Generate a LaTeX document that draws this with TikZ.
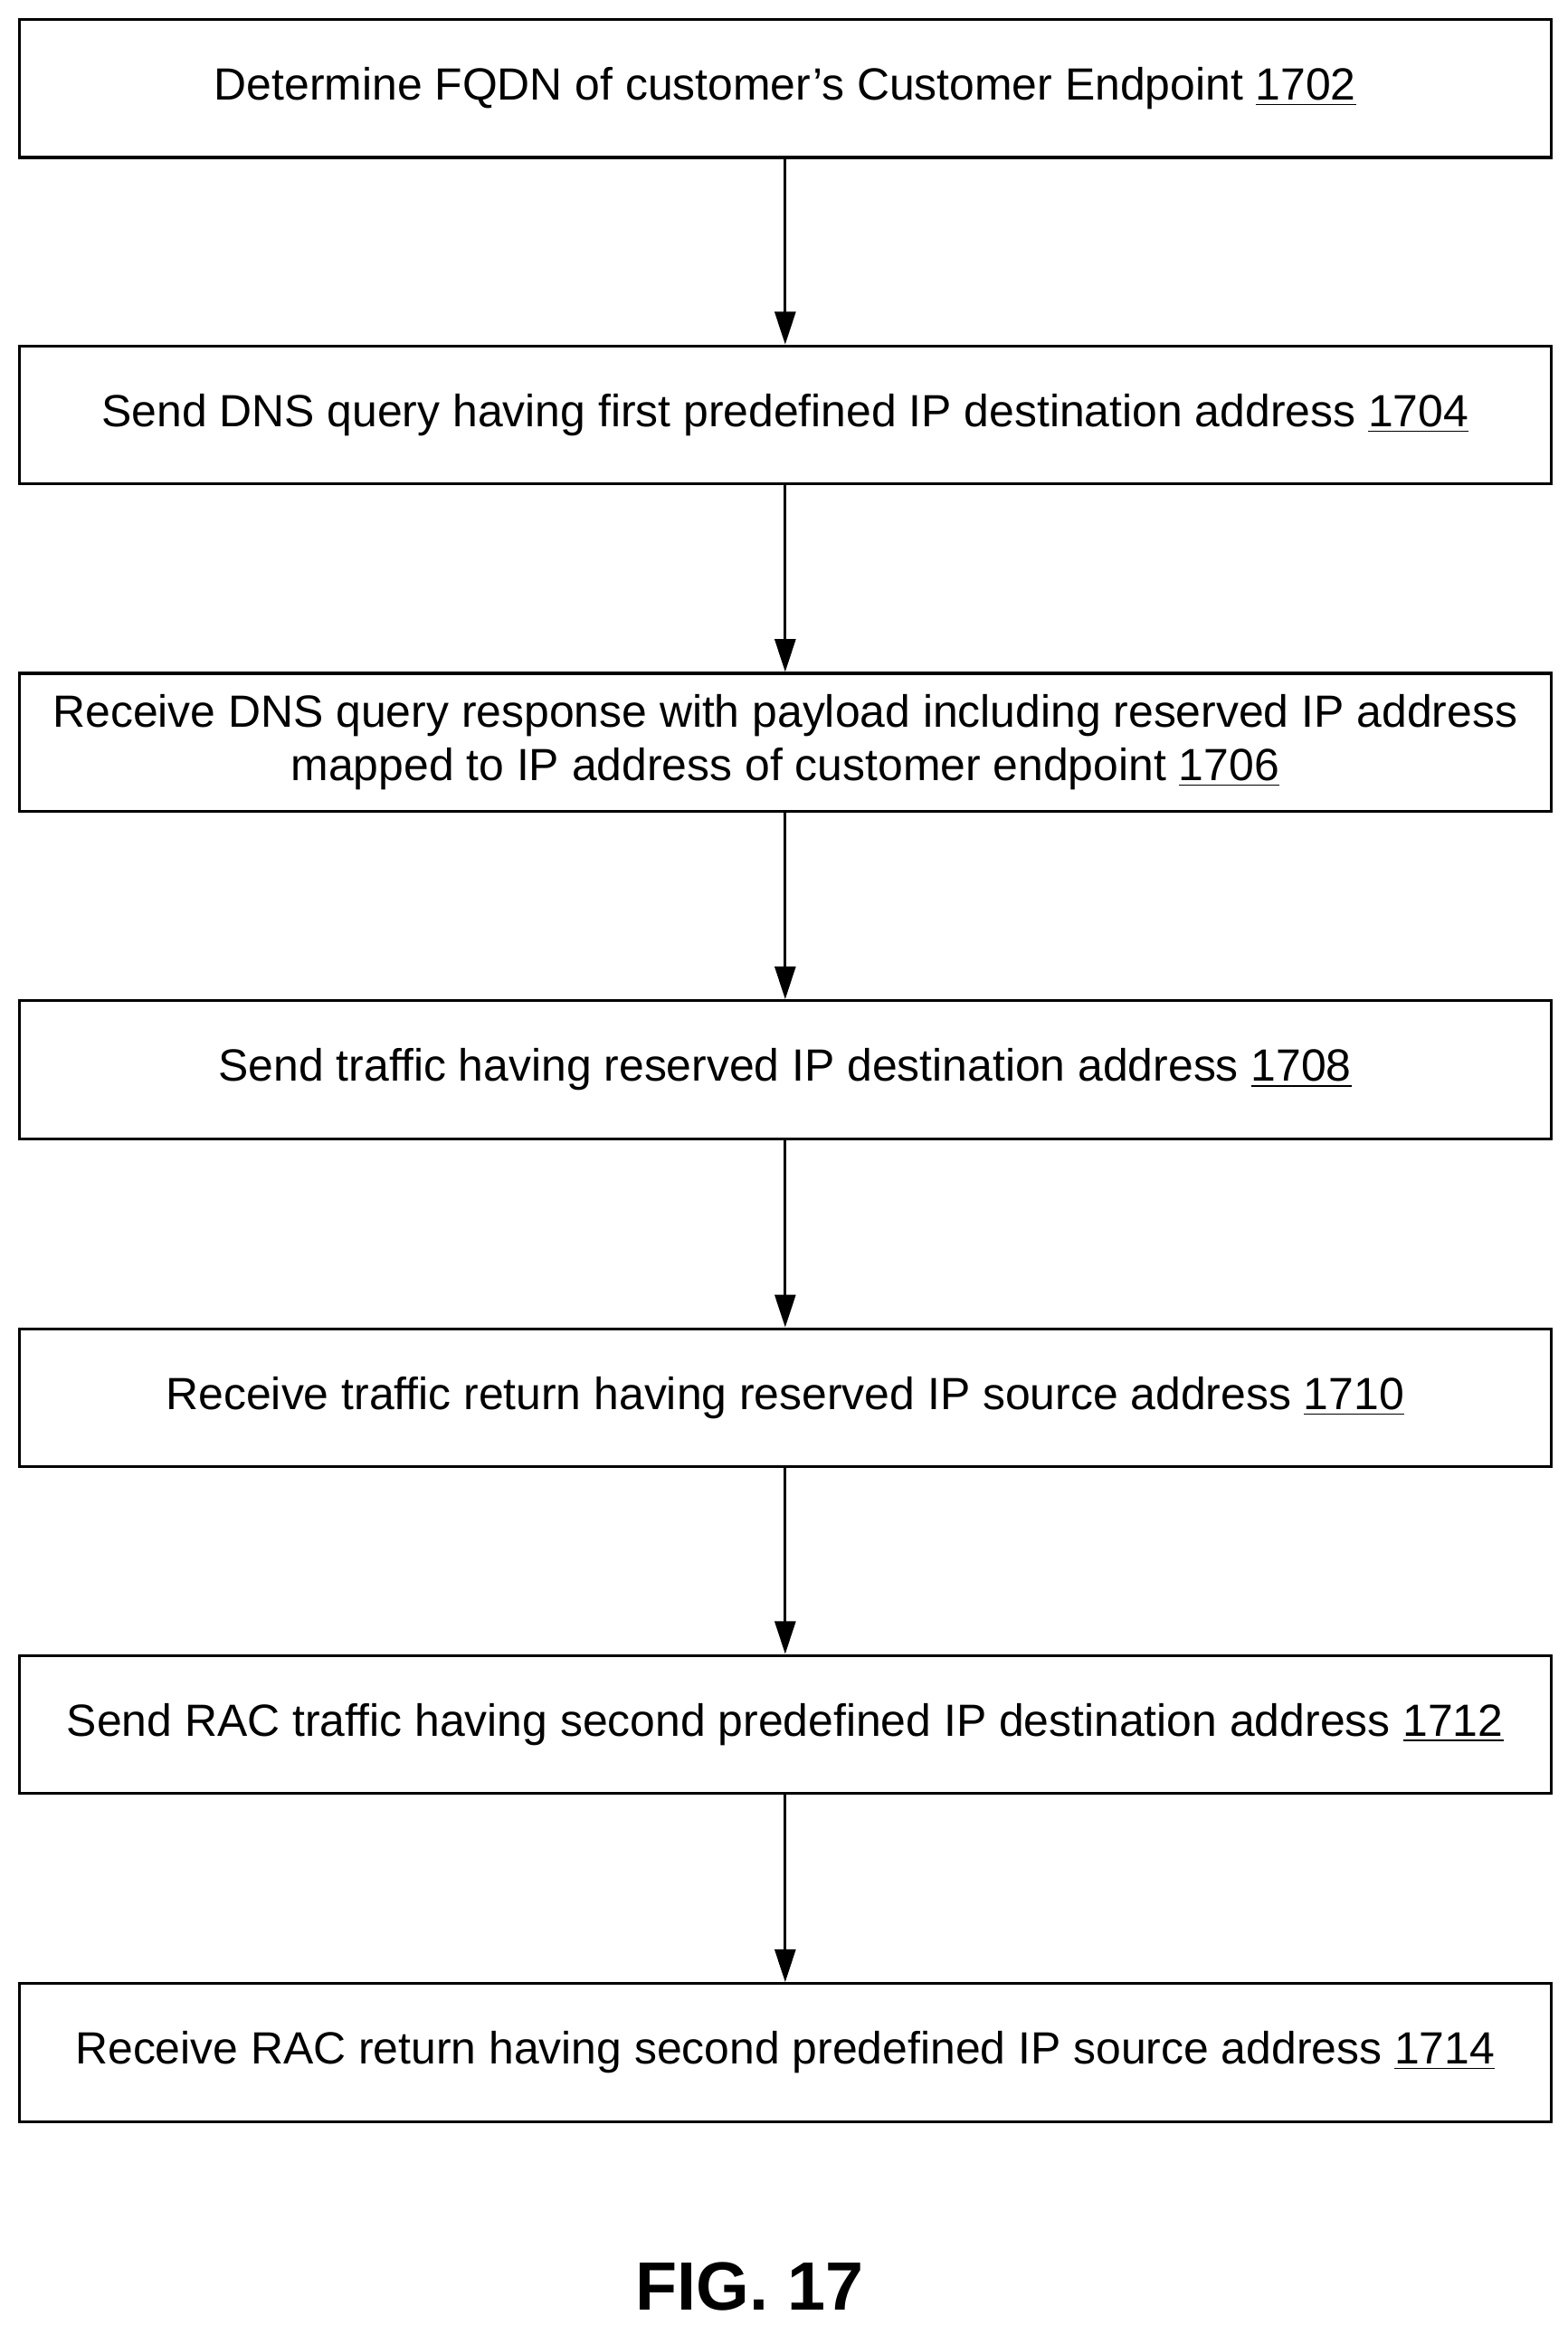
\documentclass[tikz,border=0pt]{standalone}
\usepackage{fontspec}
\setmainfont{Liberation Sans}
\usetikzlibrary{positioning, arrows.meta}

\tikzset{
  stepbox/.style={draw, line width=1pt, minimum width=516pt, minimum height=46.5pt,
    inner sep=2pt, align=center, font=\fontsize{15.2}{18}\selectfont},
  flow/.style={-{Triangle[length=11pt,width=7pt]}, line width=0.9pt}
}

\begin{document}
\begin{tikzpicture}[x=0.5pt, y=-0.5pt]
  \useasboundingbox (0,0) rectangle (1056,1566);
  % Steps
  \node[stepbox] (s1) at (529,59.5) {Determine FQDN of customer’s Customer Endpoint \underline{1702}};
  \node[stepbox] (s2) at (529,279.5) {Send DNS query having first predefined IP destination address \underline{1704}};
  \node[stepbox] (s3) at (529,500) {Receive DNS query response with payload including reserved IP address\\mapped to IP address of customer endpoint \underline{1706}};
  \node[stepbox] (s4) at (529,720.5) {Send traffic having reserved IP destination address \underline{1708}};
  \node[stepbox] (s5) at (529,941.5) {Receive traffic return having reserved IP source address \underline{1710}};
  \node[stepbox] (s6) at (529,1161.5) {Send RAC traffic having second predefined IP destination address \underline{1712}};
  \node[stepbox] (s7) at (529,1382.5) {Receive RAC return having second predefined IP source address \underline{1714}};

  % Arrows
  \foreach \a/\b in {s1/s2, s2/s3, s3/s4, s4/s5, s5/s6, s6/s7}
    \draw[flow] (\a) -- (\b);

  % Caption
  \node[font=\bfseries\fontsize{23}{28}\selectfont] (fig) at (505,1540) {FIG. 17};
\end{tikzpicture}
\end{document}
